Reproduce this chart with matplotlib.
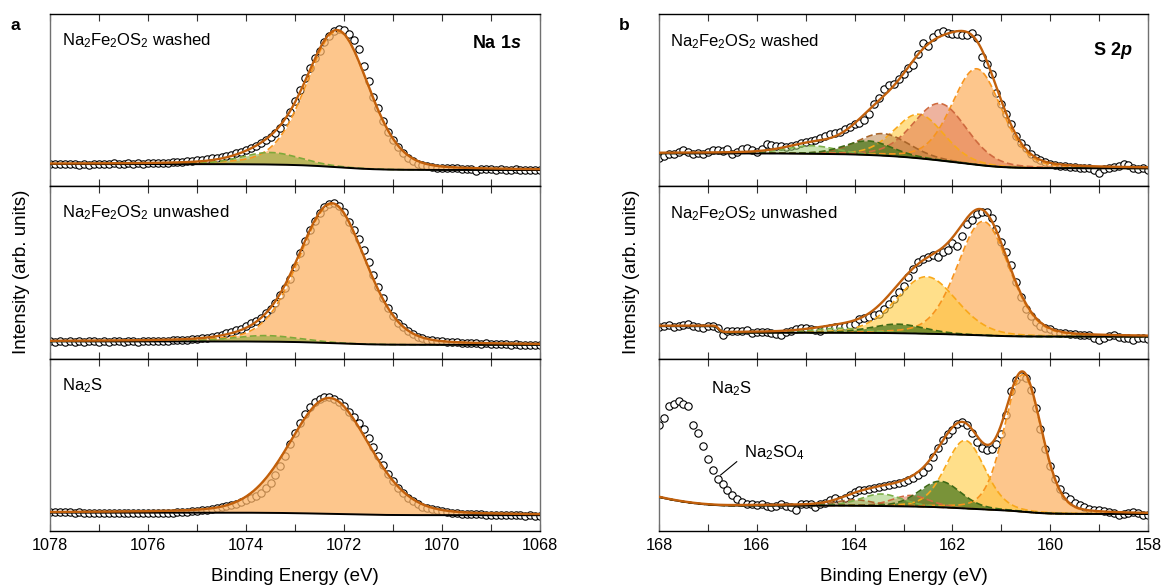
import numpy as np
import matplotlib
matplotlib.use("Agg")
import matplotlib.pyplot as plt
from matplotlib.ticker import MultipleLocator

plt.rcParams['font.family'] = ['Liberation Sans', 'DejaVu Sans']
plt.rcParams['mathtext.fontset'] = 'custom'
plt.rcParams['mathtext.rm'] = 'Liberation Sans'
plt.rcParams['mathtext.it'] = 'Liberation Sans:italic'
plt.rcParams['mathtext.bf'] = 'Liberation Sans:bold'
plt.rcParams['mathtext.bfit'] = 'Liberation Sans:bold:italic'

# measurement grids, 0.1 eV steps from high to low binding energy
na_energy = np.round(np.arange(1078.0, 1067.95, -0.1), 2)
s_energy = np.round(np.arange(168.0, 157.95, -0.1), 2)

# ---- Na 1s counts (arb. units) ----
na_washed = [
    22.5, 22.0, 22.5, 22.0, 22.5, 22.0, 21.5, 22.0, 21.0, 22.5,
    22.0, 22.5, 22.0, 23.0, 22.5, 22.0, 23.0, 22.5, 23.0, 22.5,
    23.0, 23.0, 23.5, 23.0, 23.5, 24.0, 24.0, 24.5, 25.0, 25.5,
    26.0, 26.5, 27.0, 28.0, 28.5, 29.5, 30.5, 31.5, 33.0, 34.0,
    36.0, 38.0, 40.0, 43.0, 46.0, 49.0, 53.0, 58.0, 65.0, 74.0,
    85.0, 96.0, 108.0, 118.0, 128.0, 135.0, 144.0, 150.0, 155.0, 157.0,
    156.0, 152.0, 146.0, 137.0, 120.0, 105.0, 89.0, 78.0, 65.0, 54.0,
    46.0, 39.0, 33.0, 28.5, 25.0, 22.5, 21.0, 20.0, 19.0, 18.5,
    18.5, 18.0, 18.0, 18.0, 17.5, 17.5, 17.0, 15.5, 17.0, 17.0,
    17.0, 16.5, 17.0, 16.5, 16.5, 17.0, 16.5, 16.5, 16.0, 16.5,
    16.0]
na_unwashed = [
    17.5, 17.0, 17.5, 17.0, 17.5, 17.0, 17.5, 17.0, 17.5, 17.5,
    17.0, 17.5, 17.0, 17.5, 17.5, 17.0, 17.5, 17.5, 17.0, 17.5,
    18.0, 17.5, 18.0, 18.0, 18.0, 18.5, 18.5, 19.0, 19.0, 19.5,
    19.5, 20.5, 21.0, 22.0, 23.0, 24.0, 25.5, 27.0, 28.5, 30.0,
    32.5, 35.5, 37.5, 40.5, 45.5, 50.0, 55.5, 63.5, 71.0, 80.0,
    92.0, 106.0, 118.0, 129.0, 138.0, 146.0, 152.0, 155.0, 155.5, 152.5,
    146.5, 137.0, 129.0, 119.5, 109.0, 96.5, 84.0, 72.0, 61.0, 51.0,
    42.5, 36.0, 31.5, 27.5, 24.5, 22.0, 20.5, 19.0, 18.5, 18.0,
    17.5, 17.0, 16.5, 16.5, 16.0, 16.0, 15.5, 15.5, 15.0, 15.5,
    15.0, 15.0, 14.5, 14.5, 14.0, 14.5, 14.0, 13.5, 14.0, 13.5,
    13.5]
na_na2s = [
    19.5, 19.0, 19.5, 19.0, 19.0, 18.5, 19.0, 18.5, 18.5, 18.5,
    18.0, 18.5, 18.0, 18.0, 18.5, 18.0, 18.0, 18.0, 18.5, 18.0,
    18.0, 18.5, 18.0, 18.5, 18.5, 18.5, 19.0, 19.0, 19.5, 20.0,
    20.5, 21.0, 21.5, 22.5, 23.5, 24.5, 25.5, 26.5, 27.5, 29.0,
    31.0, 33.0, 35.5, 38.5, 43.0, 48.5, 56.0, 65.0, 75.0, 87.0,
    98.0, 108.0, 117.0, 124.5, 129.5, 132.5, 134.0, 134.0, 132.5, 129.5,
    125.0, 119.5, 114.0, 108.5, 102.0, 93.5, 84.5, 75.0, 66.0, 57.5,
    50.0, 43.5, 38.0, 33.5, 30.0, 27.0, 24.5, 23.0, 22.0, 21.0,
    20.0, 19.0, 18.5, 18.0, 17.5, 17.5, 17.0, 17.0, 17.0, 16.5,
    16.5, 16.5, 16.0, 16.5, 16.0, 16.0, 16.0, 15.5, 16.0, 15.5,
    15.5]

# ---- S 2p counts (arb. units) ----
s_washed = [
    28.7, 30.3, 32.0, 32.7, 34.7, 36.0, 34.0, 32.7, 33.7, 32.0,
    34.7, 36.0, 36.0, 35.3, 37.0, 32.7, 34.7, 37.0, 38.7, 36.7,
    34.7, 37.0, 42.0, 41.3, 40.3, 40.0, 39.3, 40.3, 41.3, 43.7,
    44.7, 45.3, 46.7, 48.0, 50.0, 52.0, 53.3, 54.7, 57.0, 59.3,
    62.0, 63.7, 66.0, 72.0, 82.7, 88.0, 97.0, 101.3, 102.0, 107.0,
    112.0, 118.0, 121.3, 132.0, 143.7, 140.3, 149.3, 153.7, 155.3, 153.3,
    152.7, 152.0, 151.3, 151.3, 153.7, 148.0, 129.3, 122.0, 112.0, 93.7,
    82.7, 72.7, 62.0, 50.3, 43.7, 38.7, 32.7, 28.0, 26.0, 24.7,
    22.7, 21.3, 20.3, 20.0, 19.3, 19.3, 18.7, 18.0, 18.7, 16.0,
    13.7, 17.0, 18.7, 19.3, 20.3, 22.7, 21.3, 18.7, 17.0, 18.0,
    16.7]
s_unwashed = [
    31.3, 33.0, 34.0, 31.5, 33.0, 34.0, 34.7, 33.0, 32.0, 30.7,
    32.5, 33.0, 31.0, 24.0, 28.0, 28.0, 28.0, 28.0, 28.7, 25.3,
    27.0, 27.0, 26.3, 25.3, 25.0, 24.0, 26.3, 28.0, 29.5, 30.7,
    30.7, 29.7, 28.5, 28.0, 29.7, 30.7, 31.5, 32.0, 33.0, 33.5,
    35.0, 39.7, 41.0, 42.0, 43.5, 44.7, 49.7, 54.7, 60.0, 66.3,
    73.0, 81.3, 89.7, 96.3, 99.7, 102.0, 104.0, 102.0, 106.3, 108.7,
    115.3, 113.0, 123.0, 134.7, 138.7, 144.7, 146.3, 147.0, 141.0, 130.0,
    117.0, 107.0, 94.0, 77.0, 62.0, 50.0, 42.5, 37.0, 33.0, 30.5,
    29.7, 27.0, 25.8, 25.3, 24.7, 24.3, 24.0, 24.0, 23.2, 21.0,
    18.7, 20.5, 22.5, 24.0, 21.3, 21.0, 20.5, 18.7, 20.5, 21.0,
    19.3]
s_na2s = [
    106.5, 113.5, 125.0, 127.5, 130.0, 127.0, 125.0, 106.0, 98.5, 85.0,
    72.5, 61.5, 52.5, 47.0, 41.0, 36.0, 32.5, 29.5, 27.5, 27.0,
    26.0, 27.0, 25.0, 24.5, 25.0, 27.0, 25.0, 24.5, 21.5, 27.5,
    27.5, 27.5, 24.5, 27.0, 28.5, 31.0, 33.5, 31.0, 33.5, 36.0,
    39.0, 41.0, 41.5, 42.5, 43.5, 44.5, 45.0, 46.0, 47.5, 48.5,
    49.5, 51.5, 53.5, 56.0, 59.5, 64.5, 74.0, 83.0, 91.0, 97.0,
    101.5, 107.0, 109.5, 106.5, 98.0, 89.0, 83.0, 81.0, 82.0, 87.0,
    97.0, 116.0, 140.0, 151.0, 155.0, 153.0, 141.0, 123.0, 102.0, 82.0,
    65.0, 52.0, 42.0, 35.5, 32.0, 28.5, 26.0, 24.0, 22.5, 21.5,
    21.0, 20.0, 19.3, 18.5, 16.5, 17.5, 18.5, 19.0, 18.0, 16.5,
    16.5]

# fitted components: (centre eV, height, FWHM eV, colour)
na_washed_fit = [(1072.13, 136, 1.50, 'orange'), (1073.50, 12, 1.40, 'green')]
na_unwashed_fit = [(1072.24, 139, 1.60, 'orange'), (1073.60, 6, 1.60, 'green')]
na_na2s_fit = [(1072.30, 116, 1.92, 'orange')]
s_washed_fit = [(161.50, 96, 1.20, 'orange'), (162.68, 44, 1.20, 'yellow'),
                (162.25, 57, 1.30, 'salmon'), (163.42, 22, 1.25, 'brown'),
                (164.88, 8, 1.20, 'lightgreen'), (163.72, 14, 1.15, 'darkgreen')]
s_unwashed_fit = [(161.37, 114, 1.25, 'orange'), (162.53, 57, 1.45, 'yellow'),
                  (164.30, 4.5, 1.30, 'lightgreen'), (163.12, 9, 1.30, 'darkgreen')]
s_na2s_fit = [(160.56, 137, 0.90, 'orange'), (161.74, 68, 0.95, 'yellow'),
              (162.85, 11, 0.90, 'salmon'), (164.00, 6, 0.90, 'brown'),
              (163.45, 12, 1.00, 'lightgreen'), (162.25, 26, 1.00, 'darkgreen')]

# Shirley background end levels (high BE side, low BE side)
na_bg = [(22.3, 16.3), (17.3, 13.8), (18.4, 15.8)]
s_bg = [(33.0, 18.0), (26.0, 22.0), (25.5, 17.0)]
s_unwashed_step = (166.78, 6.5)   # edge position, step height
s_na2s_rise = (166.5, 8.5)        # onset, extra level at 168 eV

sample_labels = ['Na$_2$Fe$_2$OS$_2$ washed', 'Na$_2$Fe$_2$OS$_2$ unwashed', 'Na$_2$S']

colours = {  # fill, dashed edge, alpha
    'orange': ('#FDB366', '#F7941D', 0.75),
    'yellow': ('#FFCB3D', '#F9A81A', 0.6),
    'salmon': ('#E07650', '#CF6A3F', 0.55),
    'brown': ('#B97A3C', '#A9652A', 0.5),
    'lightgreen': ('#9CCB6E', '#7DB04A', 0.55),
    'darkgreen': ('#4C7A1E', '#3E6A16', 0.75),
    'green': ('#8CAA3C', '#7FA83A', 0.6),
}
envelope_colour = '#C2600C'


def pvoigt(x, c, h, w, eta=0.2):
    u = (x - c) / w
    return h * ((1 - eta) * np.exp(-4 * np.log(2) * u ** 2) + eta / (1 + 4 * u ** 2))


def shirley(peaks_sum, left, right):
    cum = np.cumsum(peaks_sum[::-1])[::-1]
    return right + (left - right) * cum / cum[0]


def draw_spectrum(ax, energy, counts, fit, bg_ends, xfine, extra=None):
    comps = [pvoigt(xfine, c, h, w) for c, h, w, _ in fit]
    bg = shirley(np.sum(comps, axis=0), *bg_ends)
    if extra is not None:
        bg = bg + extra
    ax.plot(energy, counts, 'o', mfc='white', mec='black', ms=5.3, mew=0.8, zorder=1)
    for comp, (_, _, _, key) in zip(comps, fit):
        fc, ec, a = colours[key]
        ax.fill_between(xfine, bg, bg + comp, color=fc, alpha=a, lw=0, zorder=2)
        ax.plot(xfine, bg + comp, color=ec, lw=1.2, ls=(0, (4, 2)), zorder=3)
    ax.plot(xfine, bg, color='black', lw=1.4, zorder=4)
    ax.plot(xfine, bg + np.sum(comps, axis=0), color=envelope_colour, lw=1.7, zorder=5)


W, H = 1166, 587
fig = plt.figure(figsize=(W / 100, H / 100), dpi=100)
row_h = (531 - 14) / 3


def make_axes(left_px, width_px, row):
    bottom_px = 14 + row_h * (row + 1)
    ax = fig.add_axes([left_px / W, 1 - bottom_px / H, width_px / W, row_h / H])
    ax.set_ylim(0, row_h)
    ax.set_yticks([])
    for side in ('left', 'right'):
        ax.spines[side].set_color('#707070')
        ax.spines[side].set_linewidth(1.0)
    for side in ('top', 'bottom'):
        ax.spines[side].set_color('black')
        ax.spines[side].set_linewidth(1.0)
    ax.tick_params(axis='x', which='both', direction='in', top=True, bottom=True,
                   length=5, width=0.8, color='#333333', labelsize=11.7, pad=5,
                   labelbottom=(row == 2))
    return ax


na_fine = np.linspace(1078, 1068, 800)
s_fine = np.linspace(168, 158, 800)

na_counts = [na_washed, na_unwashed, na_na2s]
na_fits = [na_washed_fit, na_unwashed_fit, na_na2s_fit]
s_counts = [s_washed, s_unwashed, s_na2s]
s_fits = [s_washed_fit, s_unwashed_fit, s_na2s_fit]

for row in range(3):
    ax = make_axes(50, 490, row)
    ax.set_xlim(1078, 1068)
    ax.xaxis.set_major_locator(MultipleLocator(2))
    ax.xaxis.set_minor_locator(MultipleLocator(1))
    draw_spectrum(ax, na_energy, na_counts[row], na_fits[row], na_bg[row], na_fine)
    ax.text(0.025, 0.845, sample_labels[row], transform=ax.transAxes,
            fontsize=12, va='center', ha='left')
    if row == 0:
        ax.text(0.962, 0.826, r'$\mathbf{Na\ 1}\mathbfit{s}$', transform=ax.transAxes,
                fontsize=13, va='center', ha='right')
    if row == 2:
        ax.set_xlabel('Binding Energy (eV)', fontsize=13.5, labelpad=11)

    ax = make_axes(659, 489, row)
    ax.set_xlim(168, 158)
    ax.xaxis.set_major_locator(MultipleLocator(2))
    ax.xaxis.set_minor_locator(MultipleLocator(1))
    extra = None
    if row == 1:
        pos, hgt = s_unwashed_step
        extra = hgt / (1 + np.exp(-(s_fine - pos) / 0.03))
    if row == 2:
        onset, rise = s_na2s_rise
        extra = rise * np.clip((s_fine - onset) / (168 - onset), 0, None) ** 2
    draw_spectrum(ax, s_energy, s_counts[row], s_fits[row], s_bg[row], s_fine, extra)
    if row < 2:
        ax.text(0.0225, 0.84, sample_labels[row], transform=ax.transAxes,
                fontsize=12, va='center', ha='left')
    else:
        ax.text(0.106, 0.827, sample_labels[row], transform=ax.transAxes,
                fontsize=12, va='center', ha='left')
        ax.plot([166.74, 166.41], [56, 69.3], color='black', lw=0.8, zorder=6)
        ax.text(166.26, 78, 'Na$_2$SO$_4$', fontsize=12, va='center', ha='left')
        ax.set_xlabel('Binding Energy (eV)', fontsize=13.5, labelpad=11)
    if row == 0:
        ax.text(0.969, 0.79, r'$\mathbf{S\ 2}\mathbfit{p}$', transform=ax.transAxes,
                fontsize=13, va='center', ha='right')

fig.text(15 / W, 1 - 26 / H, 'a', fontsize=12.5, fontweight='bold', ha='center', va='center')
fig.text(624 / W, 1 - 26 / H, 'b', fontsize=12.5, fontweight='bold', ha='center', va='center')
fig.text(22 / W, 1 - 272 / H, 'Intensity (arb. units)', rotation=90, fontsize=13.5,
         ha='center', va='center')
fig.text(632 / W, 1 - 272 / H, 'Intensity (arb. units)', rotation=90, fontsize=13.5,
         ha='center', va='center')

fig.savefig('out.png', dpi=100)
